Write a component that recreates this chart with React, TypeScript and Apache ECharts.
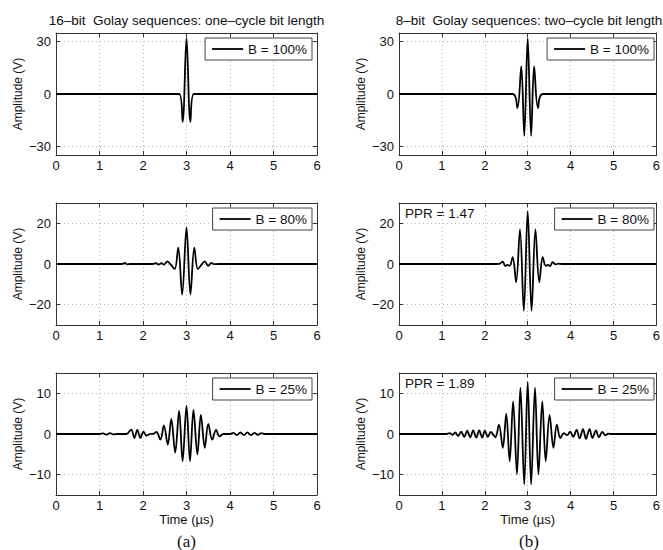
import React, { useEffect, useRef } from "react";
import * as echarts from "echarts";

// ---------- data ----------
const xTicks = [0, 1, 2, 3, 4, 5, 6];
const yTicksTop = [-30, 0, 30];
const yTicksMid = [-20, 0, 20];
const yTicksBot = [-10, 0, 10];
const yLimTop = [-35, 35];
const yLimMid = [-30, 30];
const yLimBot = [-15, 15];

const columnTitles = [
  "16\u2013bit  Golay sequences: one\u2013cycle bit length",
  "8\u2013bit  Golay sequences: two\u2013cycle bit length",
];
const columnTags = ["(a)", "(b)"];
const legendNames = ["B = 100%", "B = 80%", "B = 25%"];
const pprTexts = ["", "PPR = 1.47", "PPR = 1.89"];
const xName = "Time (\u00b5s)";
const yName = "Amplitude (V)";

// [time (µs), amplitude (V)] — extrema and baseline points
const golay16B100 = [
  [0, 0], [2.83, 0], [2.91, -16], [3.0, 32], [3.09, -16], [3.17, 0], [6, 0],
];
const golay8B100 = [
  [0, 0], [2.65, 0], [2.76, -8], [2.85, 16], [2.92, -24], [3.0, 32], [3.08, -24],
  [3.15, 16], [3.24, -8], [3.35, 0], [6, 0],
];
const golay16B80 = [
  [0, 0], [1.52, 0], [1.58, 0.5], [1.64, -0.2], [1.7, 0], [2.22, 0], [2.3, 0.4],
  [2.36, -0.3], [2.42, 0.4], [2.48, -0.3], [2.56, 1.3], [2.65, -0.6], [2.73, -2.5],
  [2.81, 8], [2.9, -15], [3.0, 18], [3.09, -15], [3.18, 8], [3.26, -2.5],
  [3.34, -0.5], [3.42, 1.3], [3.5, -0.9], [3.57, 0.5], [3.64, -0.1], [3.72, 0], [6, 0],
];
const golay8B80 = [
  [0, 0], [2.28, 0], [2.35, 0.2], [2.42, 1.1], [2.48, -1.0], [2.53, -0.4],
  [2.58, -0.9], [2.65, 3.4], [2.73, -9], [2.82, 17], [2.91, -23], [3.0, 26],
  [3.09, -23], [3.18, 17], [3.27, -9], [3.35, 3.4], [3.42, -0.9], [3.47, -0.4],
  [3.52, -1.0], [3.58, 0.9], [3.65, -0.2], [3.72, 0.2], [3.8, 0], [6, 0],
];
const golay16B25 = [
  [0, 0], [1.0, 0], [1.08, 0.15], [1.16, -0.15], [1.24, 0.2], [1.32, -0.1], [1.4, 0],
  [1.62, 0], [1.73, 1.1], [1.8, -1.0], [1.87, 1.0], [1.94, -1.0], [2.01, 0.6],
  [2.08, -0.4], [2.16, 0], [2.25, 0.1], [2.31, 0.5], [2.4, -1.4], [2.48, 2.1],
  [2.57, -2.6], [2.65, 3.7], [2.74, -4.6], [2.83, 5.7], [2.91, -6.7], [3.0, 6.9],
  [3.08, -6.7], [3.16, 5.9], [3.25, -5.0], [3.33, 4.7], [3.42, -3.4], [3.5, 2.5],
  [3.59, -1.4], [3.68, 1.0], [3.76, -0.6], [3.85, 0], [4.0, 0], [4.08, 0.3],
  [4.16, -0.3], [4.24, 0.4], [4.32, -0.3], [4.4, 0.4], [4.48, -0.3], [4.56, 0.3],
  [4.64, -0.2], [4.72, 0.2], [4.8, 0], [6, 0],
];
const golay8B25 = [
  [0, 0], [1.1, 0], [1.18, 0.2], [1.25, -0.2], [1.31, 0.4], [1.38, -0.5], [1.45, 0.6],
  [1.52, -0.7], [1.59, 0.8], [1.66, -0.8], [1.73, 0.9], [1.8, -0.9], [1.87, 0.9],
  [1.94, -0.9], [2.0, 0.8], [2.07, -0.7], [2.14, 0.5], [2.2, -0.2], [2.25, -0.8],
  [2.33, 2.3], [2.42, -3.4], [2.5, 5.0], [2.58, -6.7], [2.66, 8.0], [2.75, -9.9],
  [2.83, 11.4], [2.92, -12.4], [3.0, 12.8], [3.08, -12.4], [3.17, 11.4], [3.25, -9.9],
  [3.34, 8.0], [3.42, -6.7], [3.51, 4.7], [3.6, -3.4], [3.68, 2.3], [3.76, -1.0],
  [3.84, 0.2], [3.92, -0.3], [3.99, 0.6], [4.06, -0.7], [4.14, 1.0], [4.21, -1.1],
  [4.29, 1.2], [4.36, -1.2], [4.44, 1.2], [4.51, -1.0], [4.59, 0.9], [4.66, -0.8],
  [4.74, 0.5], [4.81, -0.3], [4.88, 0.1], [4.95, 0], [6, 0],
];

// ---------- layout ----------
const W = 663;
const H = 550;
const colLeft = [56, 399];
const colRight = [317, 659];
const rowTop = [33, 203, 373];
const plotH = 122;
const FONT = "'Liberation Sans', Arial, Helvetica, sans-serif";

export default function App() {
  const ref = useRef<HTMLDivElement>(null);

  useEffect(() => {
    if (!ref.current) return;
    const chart = echarts.init(ref.current, undefined, { renderer: "svg" });

    const rows = [
      { ticks: yTicksTop, lim: yLimTop, data: [golay16B100, golay8B100] },
      { ticks: yTicksMid, lim: yLimMid, data: [golay16B80, golay8B80] },
      { ticks: yTicksBot, lim: yLimBot, data: [golay16B25, golay8B25] },
    ];

    const grid: any[] = [];
    const xAxis: any[] = [];
    const yAxis: any[] = [];
    const series: any[] = [];
    const legend: any[] = [];
    const graphic: any[] = [];

    const axisColor = "#333";
    const gridLine = { show: true, lineStyle: { color: "#b5b5b5", type: [1, 3], width: 1 } };

    rows.forEach((row, r) => {
      [0, 1].forEach((c) => {
        const gi = grid.length;
        grid.push({
          left: colLeft[c],
          width: colRight[c] - colLeft[c],
          top: rowTop[r],
          height: plotH,
          containLabel: false,
        });
        // bottom x
        xAxis.push({
          type: "value",
          gridIndex: gi,
          min: xTicks[0],
          max: xTicks[xTicks.length - 1],
          interval: 1,
          position: "bottom",
          axisLine: { show: true, onZero: false, lineStyle: { color: axisColor, width: 1 } },
          axisTick: { show: true, inside: true, length: 4, lineStyle: { color: axisColor } },
          axisLabel: { color: "#111", fontSize: 13, margin: 4, fontFamily: FONT },
          splitLine: gridLine,
          name: r === 2 ? xName : "",
          nameLocation: "middle",
          nameGap: 18,
          nameTextStyle: { color: "#111", fontSize: 13, fontFamily: FONT },
        });
        // top x (box + ticks)
        xAxis.push({
          type: "value",
          gridIndex: gi,
          min: xTicks[0],
          max: xTicks[xTicks.length - 1],
          interval: 1,
          position: "top",
          axisLine: { show: true, onZero: false, lineStyle: { color: axisColor, width: 1 } },
          axisTick: { show: true, inside: true, length: 4, lineStyle: { color: axisColor } },
          axisLabel: { show: false },
          splitLine: { show: false },
        });
        // left y
        yAxis.push({
          type: "value",
          gridIndex: gi,
          min: row.lim[0],
          max: row.lim[1],
          position: "left",
          axisLine: { show: true, onZero: false, lineStyle: { color: axisColor, width: 1 } },
          axisTick: {
            show: true,
            inside: true,
            length: 4,
            customValues: row.ticks,
            lineStyle: { color: axisColor },
          },
          axisLabel: {
            color: "#111",
            fontSize: 13,
            margin: 5,
            fontFamily: FONT,
            customValues: row.ticks,
            formatter: (v: number) => (v < 0 ? "\u2212" + Math.abs(v) : String(v)),
          },
          splitLine: gridLine,
          name: yName,
          nameLocation: "middle",
          nameGap: 32,
          nameTextStyle: { color: "#111", fontSize: 12, fontFamily: FONT },
        });
        // right y (box + ticks)
        yAxis.push({
          type: "value",
          gridIndex: gi,
          min: row.lim[0],
          max: row.lim[1],
          position: "right",
          axisLine: { show: true, onZero: false, lineStyle: { color: axisColor, width: 1 } },
          axisTick: {
            show: true,
            inside: true,
            length: 4,
            customValues: row.ticks,
            lineStyle: { color: axisColor },
          },
          axisLabel: { show: false },
          splitLine: { show: false },
        });

        const name = legendNames[r];
        series.push({
          type: "line",
          name,
          xAxisIndex: gi * 2,
          yAxisIndex: gi * 2,
          data: row.data[c],
          symbol: "none",
          showSymbol: false,
          smooth: 0.35,
          clip: true,
          lineStyle: { color: "#000", width: 1.8 },
          itemStyle: { color: "#000" },
          z: 3,
        });

        legend.push({
          data: [{ name, icon: "rect" }],
          right: W - colRight[c] + 5,
          top: rowTop[r] + 5,
          orient: "horizontal",
          itemWidth: 31,
          itemHeight: 1.8,
          itemGap: 0,
          padding: [4, 5, 4, 7],
          borderColor: "#444",
          borderWidth: 1,
          borderRadius: 0,
          backgroundColor: "#fff",
          selectedMode: false,
          itemStyle: { color: "#000", borderWidth: 0 },
          textStyle: { color: "#111", fontSize: 13.5, fontFamily: FONT },
        });

        if (c === 1 && pprTexts[r]) {
          graphic.push({
            type: "text",
            x: colLeft[c] + 6,
            y: rowTop[r] + 10,
            style: {
              text: pprTexts[r],
              fill: "#111",
              fontSize: 13.5,
              fontFamily: FONT,
              textAlign: "left",
              textVerticalAlign: "middle",
            },
          });
        }
      });
    });

    [0, 1].forEach((c) => {
      const cx = (colLeft[c] + colRight[c]) / 2;
      graphic.push({
        type: "text",
        x: cx,
        y: 20,
        style: {
          text: columnTitles[c],
          fill: "#111",
          fontSize: 13.5,
          fontFamily: FONT,
          textAlign: "center",
          textVerticalAlign: "middle",
        },
      });
      graphic.push({
        type: "text",
        x: cx,
        y: 541,
        style: {
          text: columnTags[c],
          fill: "#111",
          fontSize: 17,
          fontFamily: "'Liberation Serif', 'Times New Roman', serif",
          textAlign: "center",
          textVerticalAlign: "middle",
        },
      });
    });

    chart.setOption({
      animation: false,
      backgroundColor: "#fff",
      textStyle: { fontFamily: FONT },
      grid,
      xAxis,
      yAxis,
      series,
      legend,
      graphic,
    });

    return () => chart.dispose();
  }, []);

  return (
    <div
      ref={ref}
      style={{ position: "fixed", left: 0, top: 0, width: W, height: H, background: "#fff" }}
    />
  );
}
